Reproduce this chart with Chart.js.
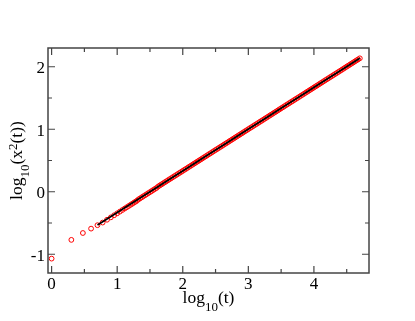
<!DOCTYPE html>
<html>
<head>
<meta charset="utf-8">
<script src="https://cdn.jsdelivr.net/npm/chart.js@4/dist/chart.umd.min.js"></script>
<style>
  html, body { margin: 0; padding: 0; background: #fff; }
  #wrap { width: 415px; height: 321px; }
</style>
</head>
<body>
<div id="wrap"><canvas id="c" width="415" height="321"></canvas></div>
<script>
// ---- data ----
const dataX = [0, 0.301, 0.477, 0.602, 0.699, 0.778, 0.845, 0.903, 0.954, 1.000,
  1.041, 1.079, 1.114, 1.146, 1.176, 1.204, 1.230, 1.255, 1.279, 1.301,
  1.325, 1.350, 1.375, 1.400, 1.425, 1.450, 1.475, 1.500, 1.525, 1.550, 1.575, 1.600,
  1.625, 1.650, 1.675, 1.700, 1.725, 1.750, 1.775, 1.800, 1.825, 1.850, 1.875, 1.900,
  1.925, 1.950, 1.975, 2.000, 2.025, 2.050, 2.075, 2.100, 2.125, 2.150, 2.175, 2.200,
  2.225, 2.250, 2.275, 2.300, 2.325, 2.350, 2.375, 2.400, 2.425, 2.450, 2.475, 2.500,
  2.525, 2.550, 2.575, 2.600, 2.625, 2.650, 2.675, 2.700, 2.725, 2.750, 2.775, 2.800,
  2.825, 2.850, 2.875, 2.900, 2.925, 2.950, 2.975, 3.000, 3.025, 3.050, 3.075, 3.100,
  3.125, 3.150, 3.175, 3.200, 3.225, 3.250, 3.275, 3.300, 3.325, 3.350, 3.375, 3.400,
  3.425, 3.450, 3.475, 3.500, 3.525, 3.550, 3.575, 3.600, 3.625, 3.650, 3.675, 3.700,
  3.725, 3.750, 3.775, 3.800, 3.825, 3.850, 3.875, 3.900, 3.925, 3.950, 3.975, 4.000,
  4.025, 4.050, 4.075, 4.100, 4.125, 4.150, 4.175, 4.200, 4.225, 4.250, 4.275, 4.300,
  4.325, 4.350, 4.375, 4.400, 4.425, 4.450, 4.475, 4.500, 4.525, 4.550, 4.575, 4.600,
  4.625, 4.650, 4.675, 4.700];
const dataY = [-1.07, -0.77, -0.66, -0.59, -0.535, -0.493, -0.448, -0.410, -0.376, -0.345,
  -0.318, -0.292, -0.269, -0.248, -0.228, -0.209, -0.192, -0.175, -0.159, -0.144,
  -0.122, -0.106, -0.089, -0.072, -0.056, -0.039, -0.022, -0.006, 0.011, 0.028, 0.045, 0.061,
  0.084, 0.101, 0.117, 0.134, 0.151, 0.167, 0.184, 0.201, 0.217, 0.234, 0.251, 0.267,
  0.284, 0.301, 0.317, 0.334, 0.351, 0.367, 0.384, 0.401, 0.417, 0.434, 0.451, 0.467,
  0.484, 0.501, 0.517, 0.534, 0.551, 0.567, 0.584, 0.601, 0.617, 0.634, 0.651, 0.668,
  0.684, 0.701, 0.718, 0.734, 0.751, 0.768, 0.784, 0.801, 0.818, 0.834, 0.851, 0.868,
  0.884, 0.901, 0.918, 0.934, 0.951, 0.968, 0.984, 1.001, 1.018, 1.034, 1.051, 1.068,
  1.084, 1.101, 1.118, 1.134, 1.151, 1.168, 1.184, 1.201, 1.218, 1.234, 1.251, 1.268,
  1.284, 1.301, 1.318, 1.335, 1.351, 1.368, 1.385, 1.401, 1.418, 1.435, 1.451, 1.468,
  1.485, 1.501, 1.518, 1.535, 1.551, 1.568, 1.585, 1.601, 1.618, 1.635, 1.651, 1.668,
  1.685, 1.701, 1.718, 1.735, 1.751, 1.768, 1.785, 1.801, 1.818, 1.835, 1.851, 1.868,
  1.885, 1.901, 1.918, 1.935, 1.951, 1.968, 1.985, 2.002, 2.018, 2.035, 2.052, 2.068,
  2.085, 2.102, 2.118, 2.135];
const fitX = [0.70, 1.50, 2.50, 3.50, 4.70];
const fitY = [-0.533, 0.0005, 0.668, 1.335, 2.135];

const xTickLabels = [0, 1, 2, 3, 4];
const yTickLabels = [-1, 0, 1, 2];
const xMinorTicks = [0.5, 1.5, 2.5, 3.5, 4.5];
const yMinorTicks = [-0.5, 0.5, 1.5];

const SERIF = "'Liberation Serif', 'Times New Roman', serif";

function richText(ctx, parts, x, y, align) {
  let total = 0;
  parts.forEach(p => { ctx.font = p.size + 'px ' + SERIF; p.w = ctx.measureText(p.t).width; total += p.w; });
  let cx = align === 'center' ? x - total / 2 : x;
  parts.forEach(p => {
    ctx.font = p.size + 'px ' + SERIF;
    ctx.fillText(p.t, cx, y + (p.dy || 0));
    cx += p.w;
  });
}

const framePlugin = {
  id: 'frame',
  afterDraw(chart) {
    const ctx = chart.ctx;
    const a = chart.chartArea;
    const xs = chart.scales.x, ys = chart.scales.y;
    ctx.save();
    ctx.strokeStyle = '#444';
    ctx.lineWidth = 1.5;
    ctx.strokeRect(a.left, a.top, a.right - a.left, a.bottom - a.top);
    ctx.lineWidth = 1.2;
    ctx.beginPath();
    const major = 7, minor = 4;
    const xt = xTickLabels.map(v => [v, major]).concat(xMinorTicks.map(v => [v, minor]));
    xt.forEach(([v, L]) => {
      const px = xs.getPixelForValue(v);
      ctx.moveTo(px, a.bottom); ctx.lineTo(px, a.bottom - L);
      ctx.moveTo(px, a.top); ctx.lineTo(px, a.top + L);
    });
    const yt = yTickLabels.map(v => [v, major]).concat(yMinorTicks.map(v => [v, minor]));
    yt.forEach(([v, L]) => {
      const py = ys.getPixelForValue(v);
      ctx.moveTo(a.left, py); ctx.lineTo(a.left + L, py);
      ctx.moveTo(a.right, py); ctx.lineTo(a.right - L, py);
    });
    ctx.stroke();

    // tick labels
    ctx.fillStyle = '#000';
    ctx.font = '17px ' + SERIF;
    ctx.textBaseline = 'alphabetic';
    ctx.textAlign = 'center';
    xTickLabels.forEach(v => {
      ctx.fillText(String(v), xs.getPixelForValue(v), a.bottom + 15.5);
    });
    ctx.textAlign = 'right';
    yTickLabels.forEach(v => {
      ctx.fillText(String(v), a.left - 3, ys.getPixelForValue(v) + 6.5);
    });

    // axis titles
    ctx.textAlign = 'left';
    const cxMid = (a.left + a.right) / 2;
    richText(ctx, [
      {t: 'log', size: 17.5},
      {t: '10', size: 13, dy: 7.5},
      {t: '(t)', size: 17.5}
    ], cxMid, 303, 'center');

    ctx.save();
    ctx.translate(21.5, (a.top + a.bottom) / 2);
    ctx.rotate(-Math.PI / 2);
    richText(ctx, [
      {t: 'log', size: 17.5},
      {t: '10', size: 13, dy: 7.5},
      {t: '(x', size: 17.5},
      {t: '2', size: 13, dy: -4.5},
      {t: '(t))', size: 17.5}
    ], 0, 0, 'center');
    ctx.restore();
    ctx.restore();
  }
};

new Chart(document.getElementById('c'), {
  type: 'scatter',
  data: {
    datasets: [
      {
        label: 'fit',
        data: fitX.map((x, i) => ({x, y: fitY[i]})),
        showLine: true,
        borderColor: '#000',
        borderWidth: 1.8,
        pointRadius: 0,
        fill: false
      },
      {
        label: 'data',
        data: dataX.map((x, i) => ({x, y: dataY[i]})),
        showLine: false,
        pointStyle: 'circle',
        pointRadius: 2.4,
        borderWidth: 1,
        borderColor: '#ff0000',
        backgroundColor: 'rgba(0,0,0,0)'
      }
    ]
  },
  options: {
    responsive: false,
    animation: false,
    events: [],
    layout: { padding: { top: 48, right: 46, left: 0, bottom: 0 } },
    plugins: { legend: { display: false }, tooltip: { enabled: false } },
    scales: {
      x: {
        type: 'linear',
        min: -0.055, max: 4.84,
        grid: { display: false },
        border: { display: false },
        afterFit(s) { s.height = 48; },
        afterBuildTicks(s) { s.ticks = xTickLabels.map(v => ({value: v})); },
        ticks: { display: false }
      },
      y: {
        type: 'linear',
        min: -1.3, max: 2.3,
        grid: { display: false },
        border: { display: false },
        afterFit(s) { s.width = 48; },
        afterBuildTicks(s) { s.ticks = yTickLabels.map(v => ({value: v})); },
        ticks: { display: false }
      }
    }
  },
  plugins: [framePlugin]
});
</script>
</body>
</html>
